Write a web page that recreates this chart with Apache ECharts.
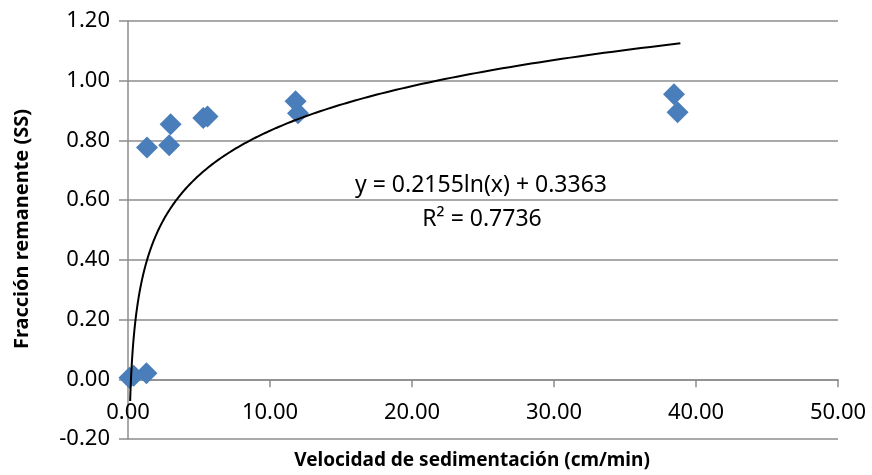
<!DOCTYPE html>
<html>
<head>
<meta charset="utf-8">
<script src="https://cdn.jsdelivr.net/npm/echarts@6/dist/echarts.min.js"></script>
<style>html,body{margin:0;padding:0;background:#fff}#c{width:872px;height:475px}</style>
</head>
<body>
<div id="c"></div>
<script>
// Observed data (Velocidad de sedimentación, Fracción remanente)
var xValues = [0.1, 0.4, 1.3, 1.34, 2.9, 3.0, 5.3, 5.6, 11.8, 11.97, 38.45, 38.7];
var yValues = [0.005, 0.012, 0.02, 0.776, 0.784, 0.854, 0.875, 0.88, 0.931, 0.891, 0.955, 0.894];
// Trendline coefficients as printed on the chart: y = a ln(x) + b
var trendA = 0.2155;
var trendB = 0.3363;
var trendRange = [0.15, 38.9];
var equationText = 'y = 0.2155ln(x) + 0.3363';
var r2Text = 'R² = 0.7736';
var xTitle = 'Velocidad de sedimentación (cm/min)';
var yTitle = 'Fracción remanente (SS)';

var pts = xValues.map(function (x, i) { return [x, yValues[i]]; });
var trend = [];
var steps = 300;
for (var i = 0; i <= steps; i++) {
  var t = i / steps;
  var x = Math.exp(Math.log(trendRange[0]) + t * (Math.log(trendRange[1]) - Math.log(trendRange[0])));
  trend.push([x, trendA * Math.log(x) + trendB]);
}

var FONT = 'Noto Sans';
var chart = echarts.init(document.getElementById('c'), null, {renderer: 'canvas'});
chart.setOption({
  animation: false,
  grid: {left: 128, right: 34, top: 21, bottom: 36, containLabel: false},
  xAxis: {
    type: 'value', min: 0, max: 50, interval: 10,
    axisLine: {show: true, onZero: true, lineStyle: {color: '#8c8c8c', width: 1.5}},
    axisTick: {show: true, length: 8, lineStyle: {color: '#8c8c8c', width: 1.5}},
    axisLabel: {fontFamily: FONT, fontSize: 22, color: '#000', margin: -38, lineHeight: 24,
      formatter: function (v) { return v.toFixed(2); }},
    splitLine: {show: false}
  },
  yAxis: {
    type: 'value', min: -0.2, max: 1.2, interval: 0.2,
    axisLine: {show: true, onZero: false, lineStyle: {color: '#8c8c8c', width: 1.5}},
    axisTick: {show: true, length: 9, lineStyle: {color: '#8c8c8c', width: 1.5}},
    axisLabel: {fontFamily: FONT, fontSize: 22, color: '#000', margin: 18,
      formatter: function (v) { return v.toFixed(2); }},
    splitLine: {show: true, lineStyle: {color: '#8c8c8c', width: 1.5}}
  },
  series: [
    {
      type: 'scatter', data: pts, symbol: 'diamond', symbolSize: 22,
      itemStyle: {color: '#4a7ebb', opacity: 1}, z: 2
    },
    {
      type: 'line', data: trend, showSymbol: false, symbol: 'none', smooth: false,
      lineStyle: {color: '#000', width: 2}, z: 3
    }
  ],
  graphic: [
    {type: 'text', x: 481, y: 185, style: {text: equationText, fontFamily: FONT, fontSize: 23, fill: '#000', textAlign: 'center', textVerticalAlign: 'middle'}},
    {type: 'text', x: 482, y: 219, style: {text: r2Text, fontFamily: FONT, fontSize: 23, fill: '#000', textAlign: 'center', textVerticalAlign: 'middle'}},
    {type: 'text', x: 472, y: 461, style: {text: xTitle, fontFamily: FONT, fontSize: 19, fontWeight: 'bold', fill: '#000', textAlign: 'center', textVerticalAlign: 'middle'}},
    {type: 'text', x: 22, y: 229, rotation: Math.PI / 2, style: {text: yTitle, fontFamily: FONT, fontSize: 20, fontWeight: 'bold', fill: '#000', textAlign: 'center', textVerticalAlign: 'middle'}}
  ]
});
</script>
</body>
</html>
